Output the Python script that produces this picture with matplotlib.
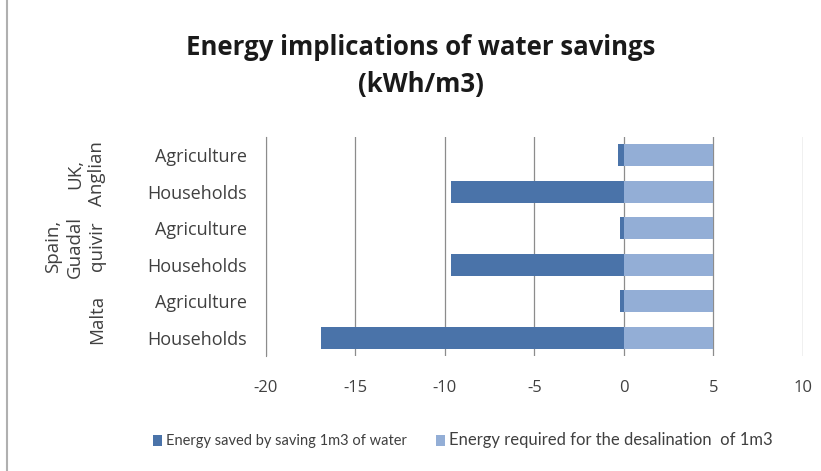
import numpy as np
import matplotlib.pyplot as plt
from matplotlib.patches import Rectangle
from matplotlib.transforms import blended_transform_factory

plt.rcParams['font.family'] = ['Open Sans', 'DejaVu Sans']
plt.rcParams['axes.unicode_minus'] = False

# top to bottom
sectors = ['Agriculture', 'Households', 'Agriculture', 'Households', 'Agriculture', 'Households']
regions = ['UK,\nAnglian', 'Spain,\nGuadal\nquivir', 'Malta']
region_rows = [4.5, 2.5, 0.5]
saved = [-0.33, -9.65, -0.23, -9.65, -0.23, -16.95]
desal = [5, 5, 5, 5, 5, 5]
ticks = [-20, -15, -10, -5, 0, 5, 10]

dark = '#4A73A9'
light = '#93AED6'
txt = '#404040'

fig = plt.figure(figsize=(8.21, 4.71), dpi=100)
ax = fig.add_axes([0.324, 0.244, 0.654, 0.465])

y = np.arange(len(sectors))[::-1]
ax.barh(y, saved, height=0.6, color=dark, zorder=3, label='Energy saved by saving 1m3 of water')
ax.barh(y, desal, height=0.6, color=light, zorder=3, label='Energy required for the desalination  of 1m3')

ax.set_xlim(-20, 10)
ax.set_ylim(-0.5, len(sectors) - 0.5)
ax.set_xticks(ticks)
ax.set_yticks(y)
ax.set_yticklabels(sectors)
ax.tick_params(axis='both', length=0, colors=txt)
ax.tick_params(axis='x', pad=17, labelsize=12)
ax.tick_params(axis='y', pad=14, labelsize=13)
ax.grid(axis='x', color='#8c8c8c', linewidth=0.9, zorder=0)
for s in ['top', 'right', 'bottom']:
    ax.spines[s].set_visible(False)
ax.spines['left'].set_color('#8c8c8c')

# group labels, one rotated line at a time, last line aligned right
tr = blended_transform_factory(fig.transFigure, ax.transData)
for name, row in zip(regions, region_rows):
    lines = name.split('\n')
    for i, line in enumerate(lines):
        xpix = 97 - 22 * (len(lines) - 1 - i)
        fig.text(xpix / 821, row, line, rotation=90, ha='center', va='center',
                 fontsize=13.5, color=txt, transform=tr)

fig.text(0.513, 0.86, 'Energy implications of water savings\n(kWh/m3)', ha='center',
         va='center', fontsize=18.5, fontweight='bold', color='#1a1a1a', linespacing=1.5)

leg = fig.legend(loc='center', bbox_to_anchor=(0.564, 0.065), ncol=2, frameon=False,
                 handlelength=0.6, handleheight=0.8, handletextpad=0.3,
                 columnspacing=2.0, labelcolor=txt, prop={'family': 'Lato', 'size': 10.5})
leg.get_texts()[1].set_fontsize(12)

fig.patches.append(Rectangle((0.008, -0.1), 1.2, 1.2, transform=fig.transFigure,
                             fill=False, edgecolor='#b0b0b0', linewidth=1.5))

fig.savefig('out.png', dpi=100)
